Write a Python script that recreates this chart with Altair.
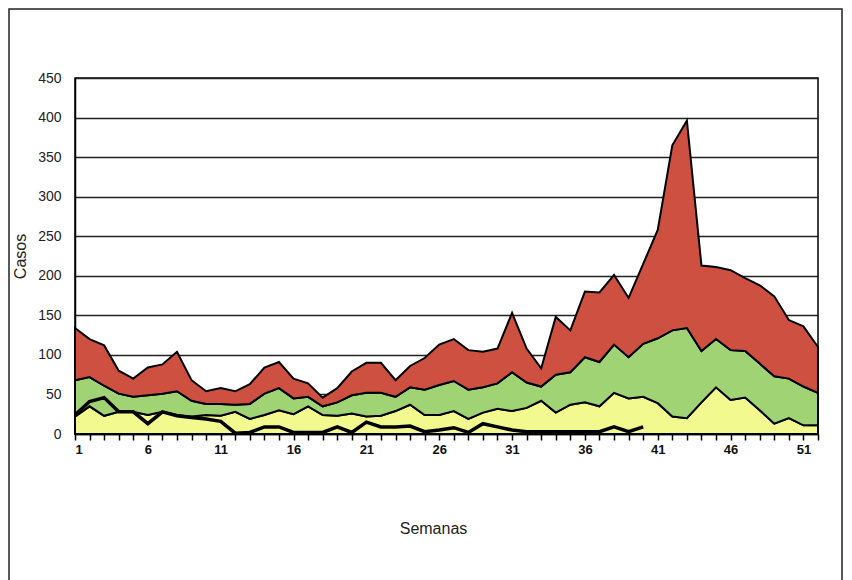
import altair as alt
import pandas as pd

weeks = list(range(1, 53))
amarillo = [22, 35, 23, 28, 28, 24, 28, 24, 22, 24, 23, 28, 19, 24, 30, 25, 35, 24, 23, 26,
            22, 23, 29, 37, 24, 24, 29, 19, 27, 32, 29, 33, 42, 27, 37, 40, 35, 52, 45, 47,
            39, 22, 20, 40, 59, 43, 46, 30, 13, 20, 11, 11]
verde = [46, 37, 38, 23, 19, 25, 23, 30, 20, 14, 15, 9, 19, 27, 28, 20, 12, 11, 17, 23,
         30, 29, 18, 22, 32, 38, 38, 37, 32, 32, 49, 32, 18, 48, 41, 57, 56, 61, 52, 67,
         82, 109, 114, 65, 61, 63, 59, 59, 60, 50, 49, 41]
rojo = [66, 48, 51, 29, 23, 35, 37, 50, 26, 16, 20, 17, 25, 33, 33, 25, 17, 11, 18, 30,
        38, 38, 21, 27, 40, 51, 53, 50, 45, 44, 75, 43, 23, 73, 53, 83, 88, 88, 75, 101,
        137, 234, 262, 108, 91, 101, 92, 99, 101, 74, 76, 58]
negro_weeks = list(range(1, 41))
negro = [24, 41, 46, 28, 28, 13, 28, 23, 21, 19, 16, 1, 2, 9, 9, 2, 2, 2, 9, 2,
         15, 9, 9, 10, 3, 5, 8, 2, 13, 9, 5, 3, 3, 3, 3, 3, 3, 9, 3, 9]
y_ticks = [0, 50, 100, 150, 200, 250, 300, 350, 400, 450]

series_names = ["amarillo", "verde", "rojo"]
series_colors = ["#F2F98E", "#A0D374", "#CD5040"]

rows = []
for i, (name, vals) in enumerate(zip(series_names, [amarillo, verde, rojo])):
    for w, v in zip(weeks, vals):
        rows.append({"semana": w, "casos": v, "serie": name, "orden": i})
df = pd.DataFrame(rows)
df_line = pd.DataFrame({"semana": negro_weeks, "casos": negro})

x_axis = alt.Axis(
    values=weeks,
    labelExpr="(datum.value - 1) % 5 == 0 ? datum.label : ''",
    labelOverlap=False,
    tickSize=6, tickColor="black", tickWidth=1.5, domainColor="black", domainWidth=1.5,
    labelFont="Liberation Sans", labelFontSize=13, labelFontWeight="bold",
    labelColor="#111", grid=False, labelPadding=3,
    title="Semanas", titleFont="Liberation Sans", titleFontSize=16,
    titleFontWeight="normal", titlePadding=64, titleColor="#222", titleX=358,
)
y_axis = alt.Axis(
    values=y_ticks,
    labelOverlap=False,
    ticks=False, domainColor="black", domainWidth=1.5,
    labelFont="Liberation Sans", labelFontSize=14, labelColor="#222", labelPadding=14,
    grid=True, gridColor="#222", gridWidth=1.5,
    title="Casos", titleFont="Liberation Sans", titleFontSize=16,
    titleFontWeight="normal", titlePadding=9, titleColor="#222",
)

x_scale = alt.Scale(domain=[1, 52], nice=False, zero=False)
y_scale = alt.Scale(domain=[0, 450], nice=False)

areas = alt.Chart(df).mark_area(stroke="black", strokeWidth=2, opacity=1).encode(
    x=alt.X("semana:Q", scale=x_scale, axis=x_axis),
    y=alt.Y("casos:Q", stack="zero", scale=y_scale, axis=y_axis),
    color=alt.Color("serie:N", scale=alt.Scale(domain=series_names, range=series_colors), legend=None),
    order=alt.Order("orden:Q", sort="ascending"),
)

line = alt.Chart(df_line).mark_line(color="black", strokeWidth=3.5).encode(
    x=alt.X("semana:Q", scale=x_scale, axis=x_axis),
    y=alt.Y("casos:Q", scale=y_scale, axis=y_axis),
)

border = alt.Chart(pd.DataFrame({"a": [0]})).mark_rect(
    fill=None, fillOpacity=0, stroke="#222", strokeWidth=1.5
).encode(
    x=alt.value(-66), x2=alt.value(767), y=alt.value(-69), y2=alt.value(540)
)

chart = alt.layer(areas, line, border).properties(
    width=743, height=356, autosize="none",
    padding={"left": 67, "top": 70, "right": 26, "bottom": 150},
).configure_view(stroke="black", strokeWidth=1.5)

chart.save("out.html", embed_options={"renderer": "svg", "actions": False})
